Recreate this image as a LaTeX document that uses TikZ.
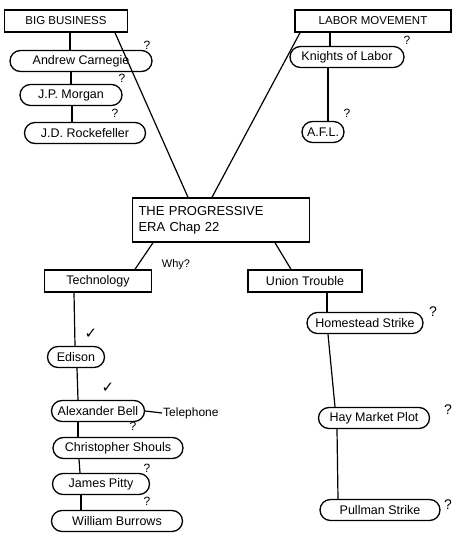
\documentclass[tikz,border=0pt]{standalone}
\usepackage{fontspec}
\setmainfont{Liberation Sans}
\newfontfamily\symf{DejaVu Sans}
\begin{document}
\begin{tikzpicture}[x=1pt,y=-1pt,
 box/.style={draw,line width=1.4pt,rectangle,minimum height=22pt,inner sep=2pt,font=\fontsize{11.5}{13}\selectfont},
 pill/.style={draw,line width=1.3pt,rounded corners=10.5pt,minimum height=21pt,inner sep=2pt,font=\fontsize{12.5}{13}\selectfont},
 link/.style={line width=1.2pt},
 qm/.style={inner sep=0pt,font=\fontsize{12}{13}\selectfont},
 ck/.style={inner sep=0pt,font=\symf\fontsize{15}{15}\selectfont}]
\useasboundingbox (0,0) rectangle (458,544);
% Big business
\node[box,minimum width=123pt] (bb) at (66,21) {BIG BUSINESS};
\node[pill,minimum width=142pt] (carn) at (81,61) {Andrew Carnegie};
\node[pill,minimum width=102pt] (morg) at (71,95) {J.P. Morgan};
\node[pill,minimum width=121pt] (rock) at (85,133) {J.D. Rockefeller};
\node[qm] (q1) at (147,45) {?};
\node[qm] (q2) at (122,78) {?};
\node[qm] (q3) at (115,113) {?};
% Labor movement
\node[box,minimum width=156pt] (lab) at (373,21) {LABOR MOVEMENT};
\node[pill,minimum width=114pt] (kol) at (347,57) {Knights of Labor};
\node[pill,minimum width=42pt] (afl) at (323,132) {A.F.L.};
\node[qm] (q4) at (407,40) {?};
\node[qm] (q5) at (347,113) {?};
% Centre
\node[box,minimum width=177pt,minimum height=44pt,align=left,font=\fontsize{13}{16}\selectfont,text width=165pt] (prog) at (221,220) {THE PROGRESSIVE\\ERA Chap 22};
% Technology
\node[box,minimum width=107pt,font=\fontsize{12.5}{13}\selectfont] (tech) at (98,281) {Technology};
\node[qm,font=\fontsize{11}{12}\selectfont] (why) at (176,265) {Why?};
\node[pill,minimum width=57pt] (edi) at (76,357) {Edison};
\node[pill,minimum width=93pt] (bell) at (98,411) {Alexander Bell};
\node[inner sep=1pt,font=\fontsize{12}{13}\selectfont,anchor=west] (tel) at (162,413) {Telephone};
\node[pill,minimum width=130pt] (chris) at (118,448) {Christopher Shouls};
\node[pill,minimum width=97pt] (pitty) at (101,484) {James Pitty};
\node[pill,minimum width=131pt] (burr) at (117,521) {William Burrows};
\node[ck] (c1) at (91,334) {✓};
\node[ck] (c2) at (108,388) {✓};
\node[qm] (q6) at (133,426) {?};
\node[qm] (q7) at (147,468) {?};
\node[qm] (q8) at (147,501) {?};
% Union trouble
\node[box,minimum width=114pt,font=\fontsize{12.5}{13}\selectfont] (union) at (305,281) {Union Trouble};
\node[pill,minimum width=116pt] (home) at (365,323) {Homestead Strike};
\node[pill,minimum width=111pt] (hay) at (374,418) {Hay Market Plot};
\node[pill,minimum width=120pt] (pull) at (380,510) {Pullman Strike};
\node[qm,font=\fontsize{14}{15}\selectfont] (q9) at (433,312) {?};
\node[qm,font=\fontsize{14}{15}\selectfont] (q10) at (448,410) {?};
\node[qm,font=\fontsize{14}{15}\selectfont] (q11) at (448,505) {?};
% connectors
\draw[link] (bb.south -| 70,0) -- (carn.north -| 70,0);
\draw[link] (carn.south -| 71,0) -- (morg.north -| 71,0);
\draw[link] (morg.south -| 72,0) -- (rock.north -| 72,0);
\draw[link] (bb.south -| 115,0) -- (prog.north -| 188,0);
\draw[link] (lab.south -| 300,0) -- (prog.north -| 212,0);
\draw[link] (lab.south -| 330,0) -- (kol.north -| 330,0);
\draw[link] (kol.south -| 328,0) -- (afl.north -| 328,0);
\draw[link] (prog.south -| 153,0) -- (tech.north -| 135,0);
\draw[link] (prog.south -| 275,0) -- (union.north -| 291,0);
\draw[link] (tech.south -| 74,0) -- (edi.north -| 75,0);
\draw[link] (edi.south -| 77,0) -- (bell.north -| 78,0);
\draw[link] (bell.south -| 78,0) -- (chris.north -| 78,0);
\draw[link] (chris.south -| 79,0) -- (pitty.north -| 80,0);
\draw[link] (pitty.south -| 81,0) -- (burr.north -| 81,0);
\draw[link] (bell.east) -- (tel.west);
\draw[link] (union.south -| 327,0) -- (home.north -| 327,0);
\draw[link] (home.south -| 328,0) -- (hay.north -| 335,0);
\draw[link] (hay.south -| 337,0) -- (pull.north -| 338,0);
\end{tikzpicture}
\end{document}
